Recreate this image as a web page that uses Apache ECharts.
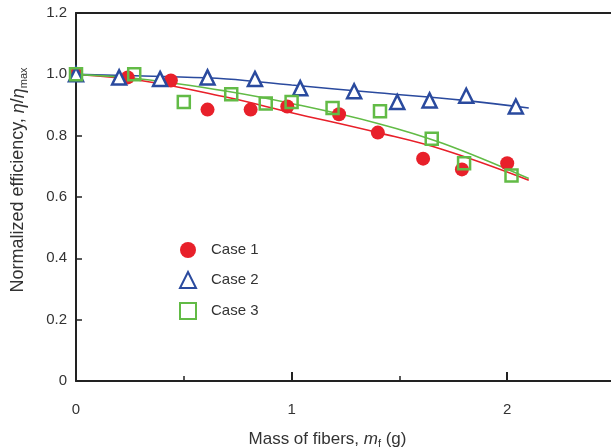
<!DOCTYPE html>
<html>
<head>
<meta charset="utf-8">
<script src="https://cdn.jsdelivr.net/npm/echarts@6/dist/echarts.min.js"></script>
<style>
  html, body { margin: 0; padding: 0; background: #fff; }
  #chart { width: 611px; height: 448px; }
</style>
</head>
<body>
<div id="chart"></div>
<script>
  // measured points [mass (g), normalized efficiency]
  var case1 = [[0, 1.0], [0.24, 0.99], [0.44, 0.98], [0.61, 0.885], [0.81, 0.885], [0.98, 0.895],
               [1.22, 0.87], [1.40, 0.81], [1.61, 0.725], [1.79, 0.69], [2.0, 0.71]];
  var case2 = [[0, 1.0], [0.20, 0.99], [0.39, 0.985], [0.61, 0.99], [0.83, 0.985], [1.04, 0.955],
               [1.29, 0.945], [1.49, 0.91], [1.64, 0.915], [1.81, 0.93], [2.04, 0.895]];
  var case3 = [[0, 1.0], [0.27, 1.0], [0.50, 0.91], [0.72, 0.935], [0.88, 0.905], [1.0, 0.91],
               [1.19, 0.89], [1.41, 0.88], [1.65, 0.79], [1.80, 0.71], [2.02, 0.67]];

  // fitted trend lines
  var fit1 = [[0, 1.0], [0.3, 0.98], [0.7, 0.925], [1.0, 0.875], [1.4, 0.81], [1.7, 0.755], [2.1, 0.655]];
  var fit2 = [[0, 1.0], [0.4, 0.993], [0.7, 0.985], [1.0, 0.965], [1.4, 0.94], [1.8, 0.915], [2.1, 0.89]];
  var fit3 = [[0, 1.0], [0.3, 0.985], [0.7, 0.945], [1.0, 0.905], [1.4, 0.84], [1.7, 0.775], [2.1, 0.66]];

  var red = '#e8202a', blue = '#2a4a9e', green = '#62bb46';

  var chart = echarts.init(document.getElementById('chart'));
  var axisFont = { fontFamily: 'Liberation Sans', fontSize: 15, color: '#333' };

  chart.setOption({
    animation: false,
    grid: { left: 76, top: 13, width: 539, height: 368, outerBoundsMode: 'none', containLabel: false },
    legend: {
      orient: 'vertical',
      left: 174,
      top: 237,
      itemGap: 13,
      itemWidth: 16,
      itemHeight: 16,
      textStyle: { fontFamily: 'Liberation Sans', fontSize: 15, color: '#333', padding: [0, 0, 0, 10] },
      data: ['Case 1', 'Case 2', 'Case 3']
    },
    xAxis: [{
      type: 'value',
      min: 0,
      max: 2.5,
      interval: 1,
      axisLine: { lineStyle: { color: '#222', width: 2 } },
      axisTick: { inside: true, length: 9, lineStyle: { color: '#222', width: 2 } },
      minorTick: { show: true, splitNumber: 2, length: 5, lineStyle: { color: '#222', width: 1.5 } },
      splitLine: { show: false },
      axisLabel: Object.assign({
        margin: 21,
        formatter: function (v) { return v % 1 ? '' : String(v); }
      }, axisFont),
      name: 'Mass of fibers, {i|m}{sub|f} (g)',
      nameLocation: 'middle',
      nameGap: 48,
      nameTextStyle: {
        fontFamily: 'Liberation Sans', fontSize: 17, color: '#333', padding: [0, 36, 0, 0],
        rich: {
          i: { fontFamily: 'Liberation Sans', fontSize: 17, fontStyle: 'italic', color: '#333' },
          sub: { fontFamily: 'Liberation Sans', fontSize: 11, color: '#333', verticalAlign: 'bottom', padding: [9, 0, 0, 0] }
        }
      }
    }, {
      type: 'value',
      position: 'top',
      min: 0,
      max: 2.5,
      axisLine: { show: true, lineStyle: { color: '#222', width: 2 } },
      axisTick: { show: false },
      axisLabel: { show: false },
      splitLine: { show: false }
    }],
    yAxis: {
      type: 'value',
      min: 0,
      max: 1.2,
      interval: 0.2,
      axisLine: { show: true, lineStyle: { color: '#222', width: 2 } },
      axisTick: { show: true, inside: true, length: 6, lineStyle: { color: '#222', width: 1.5 } },
      splitLine: { show: false },
      axisLabel: Object.assign({
        margin: 9,
        formatter: function (v) { return v === 0 ? '0' : v.toFixed(1); }
      }, axisFont),
      name: 'Normalized efficiency, {i|η}/{i|η}{sub|max}',
      nameLocation: 'middle',
      nameGap: 47,
      nameTextStyle: {
        fontFamily: 'Liberation Sans', fontSize: 18, color: '#333', padding: [0, 0, 0, 34],
        rich: {
          i: { fontFamily: 'Liberation Sans', fontSize: 18, fontStyle: 'italic', color: '#333' },
          sub: { fontFamily: 'Liberation Sans', fontSize: 11, color: '#333', verticalAlign: 'bottom', padding: [10, 0, 0, 0] }
        }
      }
    },
    series: [
      { name: 'fit1', type: 'line', data: fit1, smooth: 0.4, showSymbol: false, lineStyle: { color: red, width: 1.6 }, z: 2 },
      { name: 'fit2', type: 'line', data: fit2, smooth: 0.4, showSymbol: false, lineStyle: { color: blue, width: 1.6 }, z: 2 },
      { name: 'fit3', type: 'line', data: fit3, smooth: 0.4, showSymbol: false, lineStyle: { color: green, width: 1.6 }, z: 2 },
      {
        name: 'Case 1', type: 'scatter', data: case1, symbol: 'circle', symbolSize: 14,
        itemStyle: { color: red, opacity: 1 }, z: 3
      },
      {
        name: 'Case 2', type: 'scatter', data: case2, symbol: 'triangle', symbolSize: 14,
        itemStyle: { color: '#fff', borderColor: blue, borderWidth: 2.5, opacity: 1 }, z: 4
      },
      {
        name: 'Case 3', type: 'scatter', data: case3, symbol: 'rect', symbolSize: 12,
        itemStyle: { color: 'rgba(255,255,255,0)', borderColor: green, borderWidth: 2.5, opacity: 1 }, z: 5
      }
    ]
  });
</script>
</body>
</html>
